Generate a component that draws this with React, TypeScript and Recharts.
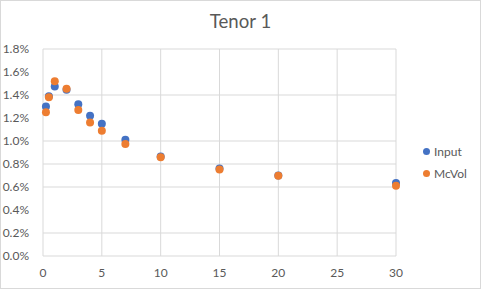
import React from 'react';
import {
  ScatterChart,
  Scatter,
  XAxis,
  YAxis,
  CartesianGrid,
} from 'recharts';

// tenor (years) and vol (%)
const tenors = [0.25, 0.5, 1, 2, 3, 4, 5, 7, 10, 15, 20, 30];
const inputVals = [1.3, 1.39, 1.475, 1.445, 1.32, 1.22, 1.15, 1.01, 0.865, 0.76, 0.7, 0.635];
const mcvolVals = [1.25, 1.38, 1.52, 1.455, 1.27, 1.16, 1.09, 0.975, 0.858, 0.752, 0.698, 0.61];
const xTicks = [0, 5, 10, 15, 20, 25, 30];
const yTicks = [0, 0.2, 0.4, 0.6, 0.8, 1.0, 1.2, 1.4, 1.6, 1.8];
const seriesNames = ['Input', 'McVol'];

const BLUE = '#4472C4';
const ORANGE = '#ED7D31';
const TEXT = '#595959';
const FONT = 'Lato, "Open Sans", sans-serif';

const inputData = tenors.map((t, i) => ({ x: t, y: inputVals[i] }));
const mcvolData = tenors.map((t, i) => ({ x: t, y: mcvolVals[i] }));

const Dot = (color: string) => (props: any) => {
  const { cx, cy } = props;
  return <circle cx={cx} cy={cy} r={4} fill={color} />;
};

// legend drawn outside recharts so it doesn't shrink the plot area
const SideLegend = () => {
  const colors = [BLUE, ORANGE];
  return (
    <div
      style={{
        position: 'absolute',
        left: 423,
        top: 140,
        fontFamily: FONT,
        fontSize: 12,
        color: TEXT,
      }}
    >
      {seriesNames.map((name, i) => (
        <div key={name} style={{ display: 'flex', alignItems: 'center', height: 22 }}>
          <span
            style={{
              width: 7,
              height: 7,
              borderRadius: '50%',
              background: colors[i],
              display: 'inline-block',
              marginRight: 4,
            }}
          />
          <span>{name}</span>
        </div>
      ))}
    </div>
  );
};

export default function App() {
  return (
    <div style={{ position: 'absolute', left: 0, top: 0, width: 481, height: 289, background: '#fff' }}>
      <div
        style={{
          position: 'absolute',
          left: 0,
          top: 10,
          width: 481,
          textAlign: 'center',
          fontFamily: FONT,
          fontSize: 18.6,
          color: TEXT,
        }}
      >
        Tenor 1
      </div>
      <ScatterChart
        width={481}
        height={289}
        margin={{ top: 49, right: 85, bottom: 13, left: 8 }}
        style={{ position: 'absolute', left: 0, top: 0 }}
      >
        <CartesianGrid stroke="#d9d9d9" strokeWidth={1} />
        <XAxis
          type="number"
          dataKey="x"
          domain={[0, 30]}
          ticks={xTicks}
          axisLine={false}
          tickLine={false}
          height={20}
          tick={{ fill: TEXT, fontSize: 12, fontFamily: FONT }}
          tickMargin={6}
        />
        <YAxis
          type="number"
          dataKey="y"
          domain={[0, 1.8]}
          ticks={yTicks}
          axisLine={false}
          tickLine={false}
          width={35}
          tick={{ fill: TEXT, fontSize: 12, fontFamily: FONT }}
          tickMargin={8}
          tickFormatter={(v: number) => `${v.toFixed(1)}%`}
        />
        <Scatter name={seriesNames[0]} data={inputData} fill={BLUE} shape={Dot(BLUE)} isAnimationActive={false} />
        <Scatter name={seriesNames[1]} data={mcvolData} fill={ORANGE} shape={Dot(ORANGE)} isAnimationActive={false} />
      </ScatterChart>
      <SideLegend />
      <div
        style={{
          position: 'absolute',
          left: 0,
          top: 0,
          width: 481,
          height: 289,
          boxSizing: 'border-box',
          border: '1px solid #d9d9d9',
          pointerEvents: 'none',
        }}
      />
    </div>
  );
}
